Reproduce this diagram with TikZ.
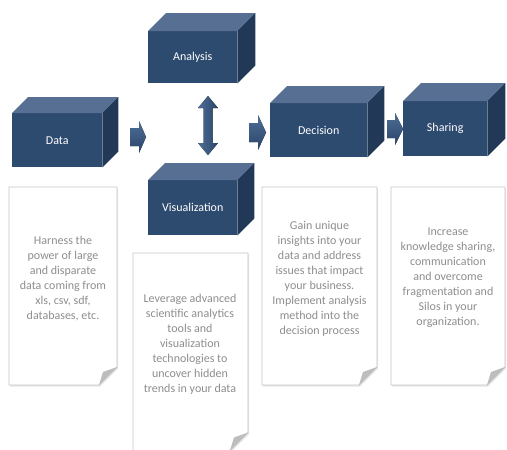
\documentclass[tikz,border=0pt]{standalone}
\usepackage{fontspec}
\setmainfont{Carlito}
\usetikzlibrary{calc,shadows}
\definecolor{cubefront}{HTML}{2D4A6F}
\definecolor{cubetop}{HTML}{566F92}
\definecolor{cubeside}{HTML}{213957}
\definecolor{notetext}{HTML}{8E8E8E}
\definecolor{noteedge}{HTML}{C6C6C6}
\definecolor{foldgray}{HTML}{BDBDBD}
\definecolor{arrowlight}{HTML}{4F6F97}
\definecolor{arrowdark}{HTML}{2A4468}
\tikzset{
 frontface/.style={fill=cubefront, draw=none, text=white, font=\fontsize{12}{14}\selectfont, anchor=north west, inner sep=0pt},
 topface/.style={fill=cubetop},
 sideface/.style={fill=cubeside},
 notepaper/.style={fill=white, draw=noteedge, line width=0.8pt, drop shadow={opacity=0.2, shadow xshift=1pt, shadow yshift=-1.5pt}},
 notefold/.style={fill=foldgray},
 notetextstyle/.style={text=notetext, align=center, font=\fontsize{12}{15}\selectfont, inner sep=0pt},
 blockarrow/.style={top color=arrowlight, bottom color=arrowdark, draw=none},
 vblockarrow/.style={left color=arrowlight, right color=arrowdark, draw=none},
}
\newcommand\mycube[7]{%
 \node[frontface, minimum width=#4pt, minimum height=#5pt] (#1) at (#2,#3) {#7};
 \fill[topface] (#1.north west) -- ++(#6,-#6) -- ($(#1.north east)+(#6,-#6)$) -- (#1.north east) -- cycle;
 \fill[sideface] (#1.north east) -- ++(#6,-#6) -- ($(#1.south east)+(#6,-#6)$) -- (#1.south east) -- cycle;
}
\newcommand\mynote[5]{%
 \path[notepaper] (#1,#2) -- (#3,#2) -- (#3,{#4-#5}) -- ({#3-#5},#4) -- (#1,#4) -- cycle;
 \fill[notefold] (#3,{#4-#5}) -- ({#3-#5},#4) -- ({#3-#5+4},{#4-#5+5}) -- cycle;
}
\begin{document}
\begin{tikzpicture}[x=1pt,y=-1pt]
\useasboundingbox (0,0) rectangle (507,450);
% cubes
\mycube{data}{12}{113}{90}{54}{16}{Data}
\mycube{analysis}{148}{31}{89}{52}{18}{Analysis}
\mycube{visual}{148}{180}{89}{55}{17}{Visualization}
\mycube{decision}{270}{103}{97}{54}{17}{Decision}
\mycube{sharing}{403}{101}{84}{55}{18}{Sharing}
% block arrows
\fill[blockarrow] (130,128) -- (139,128) -- (139,121) -- (146,137) -- (139,153) -- (139,146) -- (130,146) -- cycle;
\fill[blockarrow] (249,123) -- (258,123) -- (258,115) -- (266,132.5) -- (258,150) -- (258,142) -- (249,142) -- cycle;
\fill[blockarrow] (387,120) -- (395,120) -- (395,113) -- (403,129) -- (395,145) -- (395,138) -- (387,138) -- cycle;
\fill[vblockarrow] (208,96) -- (218,108) -- (212.5,108) -- (212.5,143) -- (218,143) -- (208,155) -- (198,143) -- (203.5,143) -- (203.5,108) -- (198,108) -- cycle;
% notes
\mynote{9}{187}{117}{385}{18}
\mynote{133}{253}{248}{450.5}{18}
\mynote{262}{187}{377}{385}{18}
\mynote{391}{187}{505}{385}{18}
\node[notetextstyle] (t1) at (63,279) {Harness the\\power of large\\and disparate\\data coming from\\xls, csv, sdf,\\databases, etc.};
\node[notetextstyle] (t2) at (190,344) {Leverage advanced\\scientific analytics\\tools and\\visualization\\technologies to\\uncover hidden\\trends in your data};
\node[notetextstyle] (t3) at (319.5,278.5) {Gain unique\\insights into your\\data and address\\issues that impact\\your business.\\Implement analysis\\method into the\\decision process};
\node[notetextstyle] (t4) at (448,278) {Increase\\knowledge sharing,\\communication\\and overcome\\fragmentation and\\Silos in your\\organization.};
\end{tikzpicture}
\end{document}
